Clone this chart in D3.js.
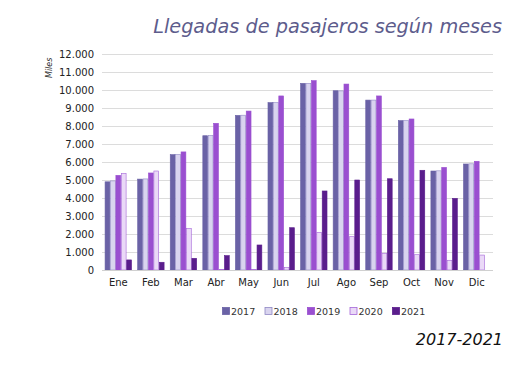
<!DOCTYPE html>
<html><head><meta charset="utf-8">
<script src="https://cdn.jsdelivr.net/npm/d3@7"></script>
<style>body{margin:0;background:#fff;}svg{display:block;font-family:"DejaVu Sans",Verdana,sans-serif;}</style>
</head><body><svg id="c" width="532" height="368"></svg>
<script>
const months = ["Ene","Feb","Mar","Abr","May","Jun","Jul","Ago","Sep","Oct","Nov","Dic"];
const years = ["2017","2018","2019","2020","2021"];
const v2017 = [4900,5050,6410,7460,8590,9300,10370,9960,9440,8300,5500,5890];
const v2018 = [4950,5060,6420,7470,8600,9300,10370,9950,9440,8300,5510,5900];
const v2019 = [5260,5390,6560,8150,8830,9670,10520,10330,9670,8390,5700,6040];
const v2020 = [5370,5500,2310,30,20,150,2090,1850,930,850,540,830];
const v2021 = [560,430,650,800,1390,2350,4390,5000,5070,5540,3980,0];
const yTicks = [0,1000,2000,3000,4000,5000,6000,7000,8000,9000,10000,11000,12000];
const series = [v2017,v2018,v2019,v2020,v2021];
const fills = ["#6a62a6","#d9d4ef","#9a4fd0","#ead9f7","#5a1d8c"];
const strokes = ["#6a62a6","#8f88c4","#9a4fd0","#a565d8","#5a1d8c"];

const svg = d3.select("#c");
const x0 = d3.scaleBand().domain(months).range([102,493]).paddingInner(0.17).paddingOuter(0.085);
const x1 = d3.scaleBand().domain(years).range([0,x0.bandwidth()]);
const y = d3.scaleLinear().domain([0,12000]).range([270,54]);
const fmt = d => d3.format(",")(d).replace(/,/g,".");

// grid
svg.append("g").selectAll("line").data(yTicks.slice(1)).join("line")
  .attr("x1",102).attr("x2",493).attr("y1",d=>Math.round(y(d))+0.5).attr("y2",d=>Math.round(y(d))+0.5)
  .attr("stroke","#dcdcdc").attr("stroke-width",1);

// y axis
const ya = svg.append("g").attr("transform","translate(102,0)")
  .call(d3.axisLeft(y).tickValues(yTicks).tickFormat(fmt).tickSize(0).tickPadding(8));
ya.select(".domain").remove();
ya.selectAll("text").attr("font-size","10px").attr("fill","#222").attr("font-family","DejaVu Sans, Verdana, sans-serif");

// bars
series.forEach((s,i)=>{
  svg.append("g").selectAll("rect").data(s).join("rect")
    .attr("x",(d,j)=>x0(months[j])+x1(years[i])+0.3)
    .attr("y",d=>y(d))
    .attr("width",x1.bandwidth()-0.6)
    .attr("height",d=>y(0)-y(d))
    .attr("fill",fills[i]).attr("stroke",d=>d>0?strokes[i]:"none").attr("stroke-width",0.6);
});

// baseline
svg.append("line").attr("x1",102).attr("x2",493).attr("y1",270.5).attr("y2",270.5).attr("stroke","#d0d0d0");

// x axis
const xa = svg.append("g").attr("transform","translate(0,270)")
  .call(d3.axisBottom(x0).tickSize(0).tickPadding(9));
xa.select(".domain").remove();
xa.selectAll("text").attr("font-size","10px").attr("fill","#222").attr("font-family","DejaVu Sans, Verdana, sans-serif");

// Miles label
svg.append("text").attr("transform","translate(52,78) rotate(-90)").attr("font-size","8px")
  .attr("font-style","italic").attr("fill","#333").text("Miles");

// title
svg.append("text").attr("x",502).attr("y",33).attr("text-anchor","end")
  .attr("font-size","19.3px").attr("font-style","italic").attr("fill","#5d5c8c")
  .attr("font-family","DejaVu Sans, Verdana, sans-serif").text("Llegadas de pasajeros según meses");

// legend
const lg = svg.append("g").attr("transform","translate(222.5,311)");
years.forEach((yr,i)=>{
  const g = lg.append("g").attr("transform",`translate(${i*42.5},0)`);
  g.append("rect").attr("x",0).attr("y",-3.5).attr("width",7).attr("height",7)
    .attr("fill",fills[i]).attr("stroke",strokes[i]).attr("stroke-width",0.8);
  g.append("text").attr("x",8.5).attr("y",3.6).attr("font-size","9.5px").attr("fill","#333").text(yr);
});

// subtitle
svg.append("text").attr("x",503).attr("y",345).attr("text-anchor","end")
  .attr("font-size","16px").attr("font-style","italic").attr("fill","#111").text("2017-2021");
</script></body></html>
